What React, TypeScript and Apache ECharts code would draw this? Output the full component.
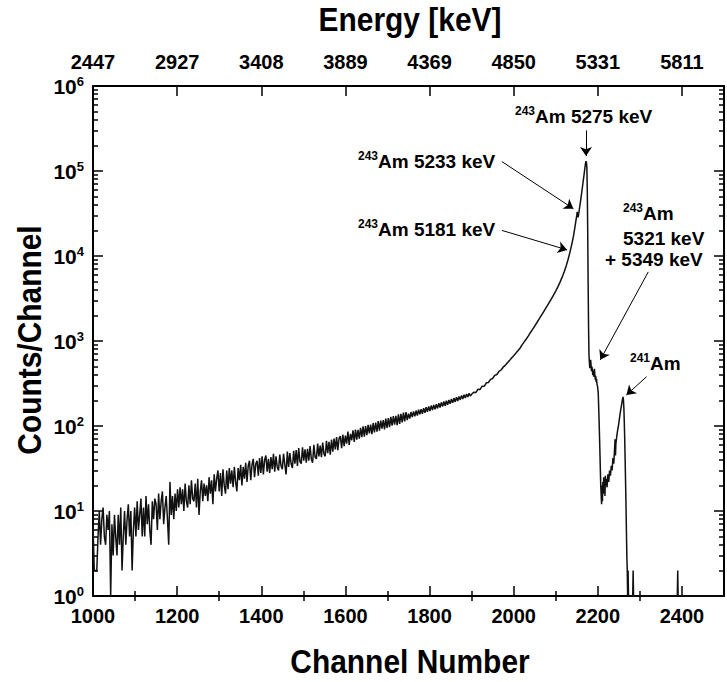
import React, { useEffect, useRef } from "react";
import * as echarts from "echarts";

// ---------- DATA ----------
// Noisy part of the spectrum: channels 1000, 1003, 1006 ... (bin step 3)
const NOISY_START = 1000;
const NOISY_STEP = 3;
const noisyCounts = [
  7, 2, 2, 2, 5, 10, 4, 8, 11, 5,
  4, 9, 6, 10, 1, 7, 3, 9, 5, 3,
  9, 4, 11, 2, 5, 10, 4, 8, 12, 5,
  10, 2, 6, 11, 5, 13, 6, 9, 14, 5,
  11, 5, 15, 7, 12, 6, 4, 13, 8, 14,
  12, 6, 16, 8, 13, 17, 7, 11, 15, 8,
  4, 22, 9, 15, 8, 16, 10, 18, 11, 19,
  12, 18, 10, 21, 13, 11, 20, 12, 23, 14,
  13, 21, 11, 24, 9, 17, 23, 13, 21, 15,
  20, 13, 25, 16, 23, 12, 27, 17, 24, 30,
  17, 28, 15, 31, 20, 16, 30, 18, 32, 21,
  30, 19, 33, 22, 17, 32, 23, 35, 20, 33,
  24, 37, 22, 34, 39, 23, 35, 41, 25, 36,
  39, 26, 42, 28, 44, 27, 40, 45, 29, 41,
  28, 43, 31, 47, 29, 44, 33, 30, 46, 34,
  31, 47, 35, 27, 50, 33, 48, 36, 32, 51,
  36, 52, 34, 55, 38, 36, 56, 39, 53, 37,
  54, 39, 58, 41, 37, 60, 43, 41, 62, 44,
  59, 43, 64, 47, 44, 67, 48, 65, 46, 69,
  50, 71, 53, 74, 52, 72, 76, 55, 79, 58,
  77, 62, 86, 60, 81, 68, 89, 65, 91, 69,
  90, 71, 95, 74, 99, 75, 100, 78, 103, 82,
  104, 80, 108, 84, 110, 86, 114, 88, 116, 93,
  117, 91, 122, 95, 124, 97, 128, 101, 131, 104,
  132, 102, 137, 106, 139, 110, 144, 113, 146, 117,
  140, 122, 146, 127, 148, 130, 152, 133, 156, 137,
  158, 139, 162, 143, 166, 147, 170, 150, 174, 154,
  177, 157, 181, 161, 185, 165, 190, 169, 194, 173,
  198, 177, 203, 182, 208, 187, 213, 192, 218, 197,
  222, 203, 228, 208, 233, 214, 238, 219, 243, 225,
];

// Rising tail: channels 1900, 1905 ... 2125
const SMOOTH_START = 1900;
const SMOOTH_STEP = 5;
const smoothCounts = [
  236, 250, 248, 270, 268, 294, 293, 322, 325, 354,
  362, 394, 404, 438, 456, 492, 517, 556, 588, 632,
  672, 718, 768, 822, 900, 975, 1055, 1150, 1260, 1370,
  1500, 1640, 1800, 1970, 2160, 2370, 2600, 2860, 3150, 3480,
  3870, 4330, 4900, 5600, 6500, 7700,
];

// Peak region (243Am lines, 241Am peak, tail)
const peakChannels = [
  2128, 2131, 2134, 2137, 2140, 2142, 2144, 2146, 2148, 2150,
  2151, 2152, 2153, 2154, 2156, 2158, 2160, 2162, 2164, 2166,
  2168, 2170, 2171, 2172, 2173, 2174, 2175, 2176, 2177, 2178,
  2179, 2180, 2181, 2182, 2183, 2184, 2185, 2186, 2187, 2188,
  2189, 2190, 2191, 2192, 2193, 2194, 2195, 2196, 2197, 2198,
  2199, 2201, 2203, 2205, 2207, 2209, 2210, 2211, 2212, 2213,
  2214, 2215, 2216, 2217, 2218, 2219, 2220, 2222, 2224, 2226,
  2228, 2230, 2232, 2234, 2236, 2238, 2240, 2241, 2242, 2243,
  2245, 2247, 2249, 2251, 2253, 2255, 2257, 2259, 2260, 2261,
  2262, 2263, 2264, 2265, 2266, 2267, 2268, 2269, 2270, 2271,
  2272, 2273, 2283, 2284, 2285, 2389, 2390, 2391, 2500,
];
const peakCounts = [
  8600, 9800, 11200, 13000, 15200, 17000, 19500, 22500, 26000, 30000,
  33000, 31000, 28500, 30000, 35000, 41000, 48000, 57000, 68000, 81000,
  96000, 115000, 125000, 130000, 126000, 110000, 60000, 20000, 5000, 1500,
  700, 560, 480, 540, 600, 520, 440, 500, 460, 400,
  450, 380, 420, 470, 400, 350, 390, 330, 360, 310,
  300, 250, 120, 50, 20, 12, 20, 13, 22, 16,
  25, 18, 23, 15, 26, 20, 24, 19, 27, 22,
  30, 26, 34, 30, 42, 36, 55, 70, 45, 62,
  75, 88, 100, 118, 140, 160, 185, 210, 220, 200,
  160, 110, 70, 40, 22, 12, 6, 3, 2, 1,
  2, 1, 1, 2, 1, 1, 2, 1, 1,
];

// Axis tick labels
const channelTicks = [1000, 1200, 1400, 1600, 1800, 2000, 2200, 2400];
const channelMinorTicks = [1100, 1300, 1500, 1700, 1900, 2100, 2300];
const energyLabels = ["2447", "2927", "3408", "3889", "4369", "4850", "5331", "5811"];
const decadeExponents = [0, 1, 2, 3, 4, 5, 6];

// Annotations: text, and arrows in data coordinates [channel, counts]
const annotationTexts = [
  { text: "{s|243}{b|Am 5275 keV}", x: 515, y: 116 },
  { text: "{s|243}{b|Am 5233 keV}", x: 358, y: 161 },
  { text: "{s|243}{b|Am 5181 keV}", x: 358, y: 229 },
  { text: "{s|243}{b|Am}", x: 623, y: 213 },
  { text: "{b|5321 keV}", x: 623, y: 238 },
  { text: "{b|+ 5349 keV}", x: 605, y: 259 },
  { text: "{s|241}{b|Am}", x: 630, y: 363 },
];
const arrows: [number, number, number, number][] = [
  [2172, 300000, 2172, 150000],
  [1972, 129000, 2142, 36000],
  [1972, 20000, 2127, 11800],
  [2320, 6500, 2206, 600],
  [2316, 380, 2268, 232],
];

// ---------- CHART ----------
const REG = "'Liberation Sans', Arial, Helvetica, sans-serif";

export default function App() {
  const ref = useRef<HTMLDivElement>(null);

  useEffect(() => {
    if (!ref.current) return;
    const chart = echarts.init(ref.current, undefined, { renderer: "svg" });

    const data: [number, number][] = [];
    noisyCounts.forEach((c, i) => data.push([NOISY_START + i * NOISY_STEP, c]));
    smoothCounts.forEach((c, i) => data.push([SMOOTH_START + i * SMOOTH_STEP, c]));
    peakChannels.forEach((ch, i) => data.push([ch, peakCounts[i]]));

    const minorLog: number[] = [];
    for (let d = 0; d < 6; d++) for (let k = 2; k <= 9; k++) minorLog.push(d + Math.log10(k));

    const black = "#000";
    const tickLine = { color: black, width: 1.5 };
    const frameLine = { show: true, onZero: false, lineStyle: { color: black, width: 2 } };
    const tickFont = { color: black, fontSize: 20, fontWeight: "bold", fontFamily: REG };

    const helperX = (pos: string) => ({
      type: "value",
      position: pos,
      min: 1000,
      max: 2500,
      axisLine: { show: false },
      axisLabel: { show: false },
      splitLine: { show: false },
      axisTick: { show: true, inside: true, length: 5, lineStyle: tickLine, customValues: channelMinorTicks },
    });
    const helperY = (pos: string, values: number[], len: number, line: boolean) => ({
      type: "value",
      position: pos,
      min: 0,
      max: 6,
      axisLine: line ? frameLine : { show: false },
      axisLabel: { show: false },
      splitLine: { show: false },
      axisTick: { show: true, inside: true, length: len, lineStyle: tickLine, customValues: values },
    });

    const annRich = {
      s: { fontSize: 12, fontWeight: "bold", fontFamily: REG, color: black, lineHeight: 12, verticalAlign: "top" },
      b: { fontSize: 19, fontWeight: "bold", fontFamily: REG, color: black, lineHeight: 22 },
    };
    const titleStyle = { fontSize: 34, fontWeight: "bold", fontFamily: REG, fill: black, align: "center", verticalAlign: "middle" };

    const option: any = {
      animation: false,
      backgroundColor: "#fff",
      grid: { left: 93, right: 3, top: 86, bottom: 86, containLabel: false, outerBoundsMode: "none" },
      xAxis: [
        {
          type: "value",
          position: "bottom",
          min: 1000,
          max: 2500,
          interval: 200,
          axisLine: frameLine,
          axisTick: { show: true, inside: true, length: 10, lineStyle: tickLine, customValues: channelTicks },
          axisLabel: { ...tickFont, margin: 10, customValues: channelTicks, formatter: (v: number) => String(Math.round(v)) },
          splitLine: { show: false },
        },
        {
          type: "value",
          position: "top",
          min: 1000,
          max: 2500,
          interval: 200,
          axisLine: frameLine,
          axisTick: { show: true, inside: true, length: 10, lineStyle: tickLine, customValues: channelTicks },
          axisLabel: {
            ...tickFont,
            margin: 14,
            customValues: channelTicks,
            formatter: (v: number) => energyLabels[channelTicks.indexOf(Math.round(v))] ?? "",
          },
          splitLine: { show: false },
        },
        helperX("bottom"),
        helperX("top"),
      ],
      yAxis: [
        {
          type: "log",
          logBase: 10,
          min: 1,
          max: 1e6,
          position: "left",
          axisLine: frameLine,
          axisTick: { show: true, inside: true, length: 10, lineStyle: tickLine },
          axisLabel: {
            margin: 9,
            formatter: (v: number) => `{b|10}{s|${Math.round(Math.log10(v))}}`,
            rich: {
              b: { fontSize: 21, fontWeight: "bold", fontFamily: REG, color: black, lineHeight: 22 },
              s: { fontSize: 13, fontWeight: "bold", fontFamily: REG, color: black, lineHeight: 10, verticalAlign: "top" },
            },
          },
          splitLine: { show: false },
        },
        helperY("left", minorLog, 5, false),
        helperY("right", decadeExponents, 10, true),
        helperY("right", minorLog, 5, false),
      ],
      series: [
        {
          type: "line",
          xAxisIndex: 0,
          yAxisIndex: 0,
          data,
          showSymbol: false,
          symbol: "none",
          lineStyle: { color: "#111", width: 1.5 },
          markLine: {
            silent: true,
            symbol: ["none", "arrow"],
            symbolSize: 9,
            label: { show: false },
            lineStyle: { color: black, width: 1, type: "solid" },
            data: arrows.map(([x1, y1, x2, y2]) => [{ coord: [x1, y1] }, { coord: [x2, y2] }]),
          },
        },
      ],
      graphic: [
        ...annotationTexts.map((a) => ({
          type: "text",
          x: a.x,
          y: a.y,
          style: { text: a.text, rich: annRich, align: "left", verticalAlign: "middle" },
        })),
        { type: "text", x: 410, y: 19, scaleX: 0.88, style: { ...titleStyle, text: "Energy [keV]" } },
        { type: "text", x: 410, y: 661, scaleX: 0.88, style: { ...titleStyle, text: "Channel Number" } },
        { type: "text", x: 29, y: 340, rotation: Math.PI / 2, scaleX: 0.88, style: { ...titleStyle, text: "Counts/Channel" } },
      ],
    };

    chart.setOption(option);
    return () => chart.dispose();
  }, []);

  return (
    <div
      ref={ref}
      style={{ position: "fixed", left: 0, top: 0, width: 727, height: 682, background: "#fff" }}
    />
  );
}
